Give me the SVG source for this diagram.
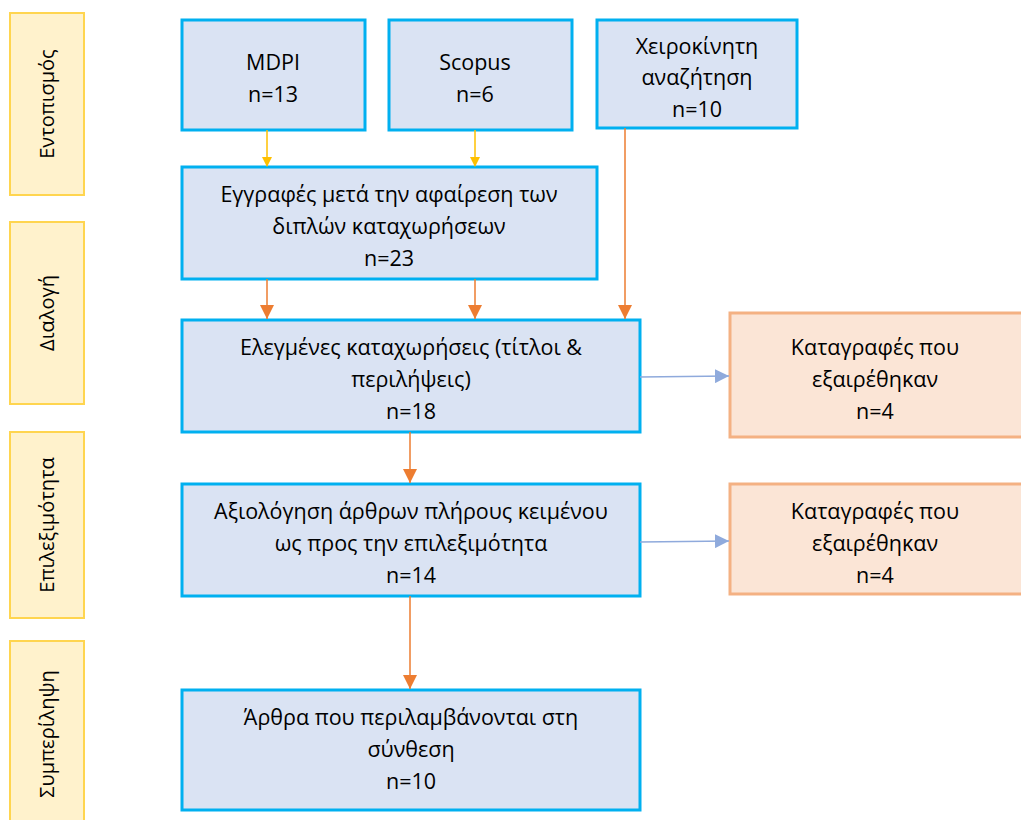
<svg xmlns="http://www.w3.org/2000/svg" width="1021" height="820" viewBox="0 0 1021 820">
<defs>
<style>
.t{font-family:"Open Sans","Noto Sans",sans-serif;font-size:21.5px;fill:#000;text-anchor:middle}
.p{font-family:"Open Sans","Noto Sans",sans-serif;font-size:20px;fill:#000;text-anchor:middle}
.ph{fill:#FFF2CC;stroke:#FFD54F;stroke-width:2}
.bx{fill:#DAE3F3;stroke:#00B0F0;stroke-width:3}
.ex{fill:#FBE5D6;stroke:#F4B183;stroke-width:3}
.ay{stroke:#FFC000;stroke-width:1.5;fill:none}
.ao{stroke:#ED7D31;stroke-width:1.5;fill:none}
.ab{stroke:#8FAADC;stroke-width:1.5;fill:none}
</style>
<marker id="my" markerWidth="10" markerHeight="10" refX="9" refY="5" orient="auto" markerUnits="userSpaceOnUse" viewBox="0 0 10 10"><path d="M0,0 L10,5 L0,10 z" fill="#FFC000"/></marker>
<marker id="mo" markerWidth="14" markerHeight="14" refX="14" refY="7" orient="auto" markerUnits="userSpaceOnUse" viewBox="0 0 14 14"><path d="M0,0 L14,7 L0,14 z" fill="#ED7D31"/></marker>
<marker id="mb" markerWidth="14" markerHeight="14" refX="14" refY="7" orient="auto" markerUnits="userSpaceOnUse" viewBox="0 0 14 14"><path d="M0,0 L14,7 L0,14 z" fill="#8FAADC"/></marker>
</defs>
<rect width="1021" height="820" fill="#fff"/>
<g id="phase1"><rect class="ph" x="10" y="13" width="74" height="182"/><text class="p" transform="translate(54,104) rotate(-90)">Εντοπισμός</text></g>
<g id="phase2"><rect class="ph" x="10" y="222" width="74" height="182"/><text class="p" transform="translate(54,313) rotate(-90)">Διαλογή</text></g>
<g id="phase3"><rect class="ph" x="10" y="432" width="74" height="186"/><text class="p" transform="translate(54,525) rotate(-90)">Επιλεξιμότητα</text></g>
<g id="phase4"><rect class="ph" x="10" y="641" width="74" height="190"/><text class="p" transform="translate(54,734) rotate(-90)">Συμπερίληψη</text></g>
<g id="mdpi"><rect class="bx" x="182" y="20" width="183" height="110"/><text class="t" x="273" y="70">MDPI</text><text class="t" x="273" y="102">n=13</text></g>
<g id="scopus"><rect class="bx" x="389" y="20" width="183" height="110"/><text class="t" x="475" y="70">Scopus</text><text class="t" x="475" y="102">n=6</text></g>
<g id="manual"><rect class="bx" x="597" y="20" width="200" height="108"/><text class="t" x="697" y="54">Χειροκίνητη</text><text class="t" x="697" y="85">αναζήτηση</text><text class="t" x="697" y="117">n=10</text></g>
<g id="dedup"><rect class="bx" x="182" y="167" width="415" height="112"/><text class="t" x="389" y="202">Εγγραφές μετά την αφαίρεση των</text><text class="t" x="389" y="234">διπλών καταχωρήσεων</text><text class="t" x="389" y="266">n=23</text></g>
<g id="screened"><rect class="bx" x="182" y="320" width="458" height="112"/><text class="t" x="411" y="355">Ελεγμένες καταχωρήσεις (τίτλοι &amp;</text><text class="t" x="411" y="387">περιλήψεις)</text><text class="t" x="411" y="419">n=18</text></g>
<g id="excl1"><rect class="ex" x="730" y="313" width="295" height="124"/><text class="t" x="875" y="355">Καταγραφές που</text><text class="t" x="875" y="387">εξαιρέθηκαν</text><text class="t" x="875" y="419">n=4</text></g>
<g id="eligible"><rect class="bx" x="182" y="484" width="458" height="112"/><text class="t" x="411" y="519">Αξιολόγηση άρθρων πλήρους κειμένου</text><text class="t" x="411" y="551">ως προς την επιλεξιμότητα</text><text class="t" x="411" y="583">n=14</text></g>
<g id="excl2"><rect class="ex" x="730" y="484" width="295" height="110"/><text class="t" x="875" y="519">Καταγραφές που</text><text class="t" x="875" y="551">εξαιρέθηκαν</text><text class="t" x="875" y="583">n=4</text></g>
<g id="included"><rect class="bx" x="182" y="690" width="458" height="120"/><text class="t" x="411" y="725">Άρθρα που περιλαμβάνονται στη</text><text class="t" x="411" y="757">σύνθεση</text><text class="t" x="411" y="789">n=10</text></g>
<g id="connectors">
<line class="ay" x1="267" y1="130" x2="267" y2="166" marker-end="url(#my)"/>
<line class="ay" x1="475" y1="130" x2="475" y2="166" marker-end="url(#my)"/>
<line class="ao" x1="267" y1="279" x2="267" y2="319" marker-end="url(#mo)"/>
<line class="ao" x1="475" y1="279" x2="475" y2="319" marker-end="url(#mo)"/>
<line class="ao" x1="625" y1="128" x2="625" y2="319" marker-end="url(#mo)"/>
<line class="ao" x1="410" y1="432" x2="410" y2="483" marker-end="url(#mo)"/>
<line class="ao" x1="410" y1="596" x2="410" y2="689" marker-end="url(#mo)"/>
<line class="ab" x1="640" y1="377" x2="729" y2="376" marker-end="url(#mb)"/>
<line class="ab" x1="640" y1="542" x2="729" y2="541" marker-end="url(#mb)"/>
</g>
</svg>
